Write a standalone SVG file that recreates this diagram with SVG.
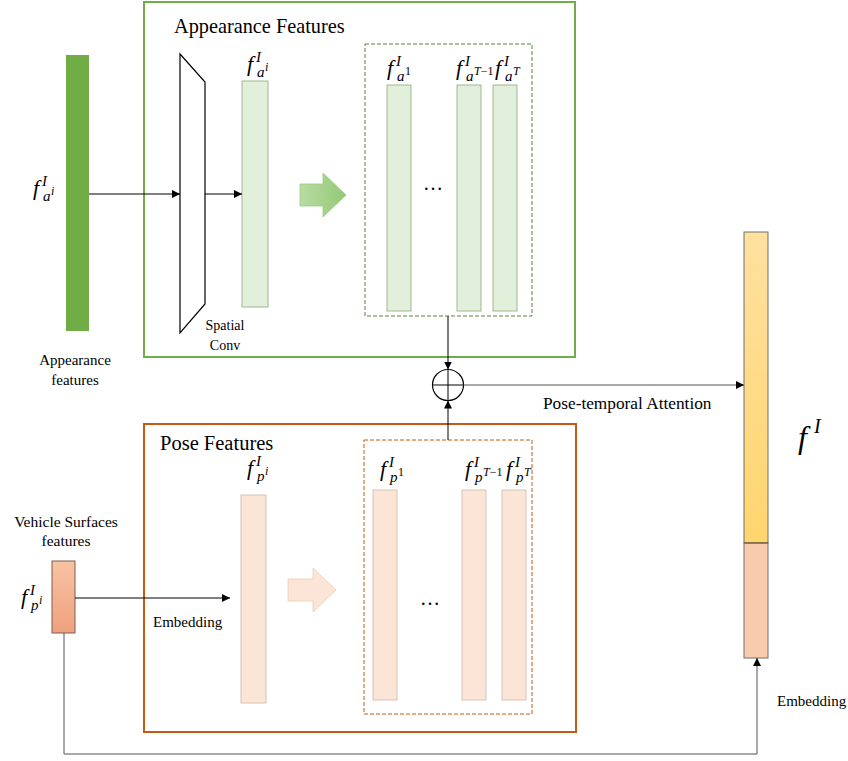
<svg xmlns="http://www.w3.org/2000/svg" width="848" height="761" viewBox="0 0 848 761">
  <defs>
    <marker id="arr" viewBox="0 0 10 10" refX="10" refY="5" markerWidth="8" markerHeight="8" markerUnits="userSpaceOnUse" orient="auto">
      <path d="M0,0 L10,5 L0,10 Z" fill="#000"/>
    </marker>
    <linearGradient id="gArrow" x1="0" y1="0" x2="1" y2="0">
      <stop offset="0" stop-color="#B9DBA3"/>
      <stop offset="1" stop-color="#93C977"/>
    </linearGradient>
    <linearGradient id="gVeh" x1="0" y1="0" x2="0" y2="1">
      <stop offset="0" stop-color="#F7C3A4"/>
      <stop offset="1" stop-color="#F0A07E"/>
    </linearGradient>
    <linearGradient id="gYel" x1="0" y1="0" x2="0" y2="1">
      <stop offset="0" stop-color="#FFE0A0"/>
      <stop offset="1" stop-color="#FFD56E"/>
    </linearGradient>
    <style>
      .t { font-family: "Liberation Serif", "Times New Roman", serif; fill: #000; }
      .m { font-family: "Liberation Serif", "Times New Roman", serif; font-style: italic; fill: #000; }
      .s { font-family: "Liberation Serif", "Times New Roman", serif; font-size: 12px; fill: #000; }
      .ln { stroke: #000; stroke-width: 1; fill: none; }
      .agbar { fill: #E2EFDA; stroke: #9FB78F; stroke-width: 1; }
      .pbar { fill: #FBE5D6; stroke: #D6C4B8; stroke-width: 1; }
    </style>
  </defs>
  <rect width="848" height="761" fill="#fff"/>

  <!-- appearance branch frame -->
  <g id="appearance-frame">
    <rect x="144" y="2" width="431" height="355" fill="none" stroke="#70AD47" stroke-width="2"/>
    <text class="t" x="174" y="33" font-size="20.3">Appearance Features</text>
  </g>

  <!-- pose branch frame -->
  <g id="pose-frame">
    <rect x="144" y="424" width="432" height="308" fill="none" stroke="#C55A11" stroke-width="2"/>
    <text class="t" x="160" y="450" font-size="20.5">Pose Features</text>
  </g>

  <!-- input appearance feature -->
  <g id="app-input">
    <rect x="66" y="55" width="23" height="276" fill="#70AD47"/>
    <text class="m" x="33" y="195" font-size="22">f</text>
    <text class="m" x="42" y="186" font-size="15">I</text>
    <text class="m" x="43" y="201" font-size="15">a</text>
    <text class="m" x="51" y="195" font-size="12">i</text>
    <text class="t" x="75" y="365" font-size="15" text-anchor="middle">Appearance</text>
    <text class="t" x="75" y="385" font-size="15" text-anchor="middle">features</text>
  </g>

  <!-- spatial convolution -->
  <g id="spatial-conv">
    <polygon points="180,54 205,82 205,304 180,333" fill="#fff" stroke="#000" stroke-width="1.2"/>
    <text class="t" x="225" y="330" font-size="14" text-anchor="middle">Spatial</text>
    <text class="t" x="225" y="350" font-size="14" text-anchor="middle">Conv</text>
  </g>

  <!-- per-frame appearance feature -->
  <g id="app-frame-feature">
    <rect class="agbar" x="242" y="81" width="26" height="226"/>
    <text class="m" x="247" y="71" font-size="22">f</text>
    <text class="m" x="256" y="62" font-size="15">I</text>
    <text class="m" x="257" y="77" font-size="15">a</text>
    <text class="m" x="265" y="71" font-size="12">i</text>
  </g>

  <!-- green block arrow -->
  <g id="app-block-arrow">
    <polygon points="300,184 323,184 323,173 346,195 323,217 323,206 300,206" fill="url(#gArrow)" stroke="#9CCB80" stroke-width="0.8"/>
  </g>

  <!-- appearance sequence -->
  <g id="app-sequence">
    <rect x="365" y="44" width="167" height="272" fill="none" stroke="#548235" stroke-width="1" stroke-dasharray="4,2"/>
    <rect class="agbar" x="387" y="85" width="24" height="226"/>
    <rect class="agbar" x="457" y="85" width="24" height="226"/>
    <rect class="agbar" x="493" y="85" width="24" height="226"/>
    <text class="t" x="433" y="190" font-size="20" text-anchor="middle">…</text>
    <text class="m" x="387" y="75" font-size="22">f</text>
    <text class="m" x="396" y="66" font-size="15">I</text>
    <text class="m" x="397" y="81" font-size="15">a</text>
    <text class="s" x="405" y="75">1</text>
    <text class="m" x="456" y="75" font-size="22">f</text>
    <text class="m" x="465" y="66" font-size="15">I</text>
    <text class="m" x="466" y="81" font-size="15">a</text>
    <text class="s" x="474" y="75"><tspan font-style="italic">T</tspan>−1</text>
    <text class="m" x="495" y="75" font-size="22">f</text>
    <text class="m" x="504" y="66" font-size="15">I</text>
    <text class="m" x="505" y="81" font-size="15">a</text>
    <text class="m" x="513" y="75" font-size="12">T</text>
  </g>

  <!-- fusion operator -->
  <g id="fusion">
    <circle cx="448" cy="385" r="15.5" fill="#fff" stroke="#000" stroke-width="1.2"/>
    <line class="ln" x1="432.5" y1="385" x2="463.5" y2="385"/>
    <line class="ln" x1="448" y1="369.5" x2="448" y2="400.5"/>
  </g>

  <!-- vehicle surfaces input -->
  <g id="pose-input">
    <text class="t" x="66" y="527" font-size="15.5" text-anchor="middle">Vehicle Surfaces</text>
    <text class="t" x="66" y="546" font-size="15.5" text-anchor="middle">features</text>
    <rect x="52" y="561" width="23" height="72" fill="url(#gVeh)" stroke="#7E5E50" stroke-width="1"/>
    <text class="m" x="21" y="604" font-size="22">f</text>
    <text class="m" x="30" y="595" font-size="15">I</text>
    <text class="m" x="31" y="610" font-size="15">p</text>
    <text class="m" x="39" y="604" font-size="12">i</text>
  </g>

  <!-- per-frame pose feature -->
  <g id="pose-frame-feature">
    <rect class="pbar" x="241" y="495" width="25" height="208"/>
    <text class="m" x="247" y="475" font-size="22">f</text>
    <text class="m" x="256" y="466" font-size="15">I</text>
    <text class="m" x="257" y="481" font-size="15">p</text>
    <text class="m" x="265" y="475" font-size="12">i</text>
  </g>

  <!-- orange block arrow -->
  <g id="pose-block-arrow">
    <polygon points="288,579 313,579 313,568 336,590 313,612 313,601 288,601" fill="#FBE5D6" stroke="#F2CCB0" stroke-width="0.8"/>
  </g>

  <!-- pose sequence -->
  <g id="pose-sequence">
    <rect x="364" y="440" width="168" height="274" fill="none" stroke="#C55A11" stroke-width="1" stroke-dasharray="4,2"/>
    <rect class="pbar" x="373" y="490" width="24" height="210"/>
    <rect class="pbar" x="462" y="490" width="24" height="210"/>
    <rect class="pbar" x="502" y="490" width="24" height="210"/>
    <text class="t" x="430" y="605" font-size="20" text-anchor="middle">…</text>
    <text class="m" x="380" y="476" font-size="22">f</text>
    <text class="m" x="389" y="467" font-size="15">I</text>
    <text class="m" x="390" y="482" font-size="15">p</text>
    <text class="s" x="398" y="476">1</text>
    <text class="m" x="465" y="476" font-size="22">f</text>
    <text class="m" x="474" y="467" font-size="15">I</text>
    <text class="m" x="475" y="482" font-size="15">p</text>
    <text class="s" x="483" y="476"><tspan font-style="italic">T</tspan>−1</text>
    <text class="m" x="506" y="476" font-size="22">f</text>
    <text class="m" x="515" y="467" font-size="15">I</text>
    <text class="m" x="516" y="482" font-size="15">p</text>
    <text class="m" x="524" y="476" font-size="12">T</text>
  </g>

  <!-- final embedding -->
  <g id="final-embedding">
    <rect x="744" y="232" width="24" height="311" fill="url(#gYel)" stroke="#6F6F6F" stroke-width="1"/>
    <rect x="744" y="543" width="24" height="115" fill="#F8CBAD" stroke="#6F6F6F" stroke-width="1"/>
    <line x1="744" y1="543" x2="768" y2="543" stroke="#7A5A2A" stroke-width="1"/>
    <text class="m" x="798" y="448" font-size="32">f</text>
    <text class="m" x="814" y="433" font-size="20">I</text>
  </g>

  <!-- connectors -->
  <g id="connectors">
    <line class="ln" x1="89" y1="194" x2="180" y2="194" marker-end="url(#arr)"/>
    <line class="ln" x1="205" y1="194" x2="242" y2="194" marker-end="url(#arr)"/>
    <line class="ln" x1="448" y1="316" x2="448" y2="369.5" marker-end="url(#arr)"/>
    <line class="ln" x1="448" y1="440" x2="448" y2="400.5" marker-end="url(#arr)"/>
    <line x1="463.5" y1="385" x2="744" y2="385" stroke="#555" stroke-width="1" marker-end="url(#arr)"/>
    <text class="t" x="543" y="409" font-size="17.3">Pose-temporal Attention</text>
    <line class="ln" x1="75" y1="598" x2="230" y2="598" marker-end="url(#arr)"/>
    <text class="t" x="153" y="627" font-size="15">Embedding</text>
    <polyline points="64,633 64,754 757,754 757,658" fill="none" stroke="#555" stroke-width="1" marker-end="url(#arr)"/>
    <text class="t" x="777" y="706" font-size="15">Embedding</text>
  </g>
</svg>
